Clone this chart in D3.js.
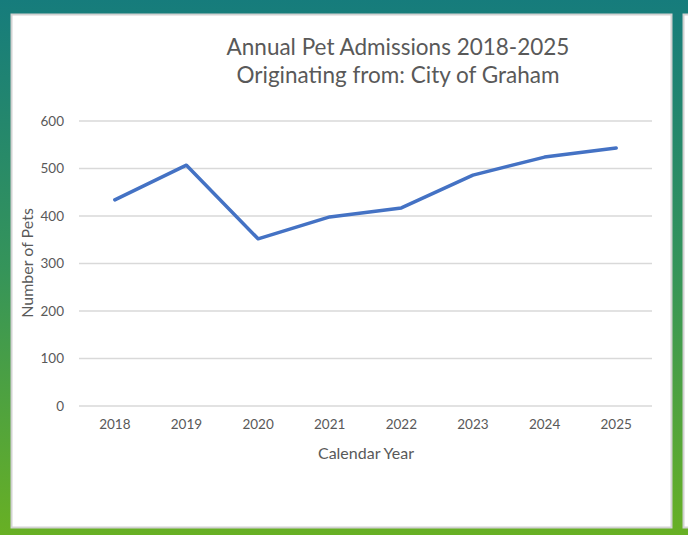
<!DOCTYPE html>
<html>
<head>
<meta charset="utf-8">
<script src="https://cdn.jsdelivr.net/npm/d3@7"></script>
<style>
  body { margin: 0; background: #fff; }
  text { font-family: Lato, "Open Sans", sans-serif; fill: #595959; }
</style>
</head>
<body>
<svg id="drawspace" width="688" height="535"></svg>
<script>
// chart data
const years = ["2018", "2019", "2020", "2021", "2022", "2023", "2024", "2025"];
const admissions = [434, 507, 352, 398, 417, 486, 524, 543];
const yTicks = [0, 100, 200, 300, 400, 500, 600];

let svg = d3.select("#drawspace");
const W = 688, H = 535;

// gradient frame behind the chart panel
let defs = svg.append("defs");
let grad = defs.append("linearGradient").attr("id", "frame")
  .attr("x1", 0).attr("y1", 0).attr("x2", 0).attr("y2", 1);
grad.append("stop").attr("offset", "0%").attr("stop-color", "#167c7c");
grad.append("stop").attr("offset", "50%").attr("stop-color", "#35945a");
grad.append("stop").attr("offset", "100%").attr("stop-color", "#68b024");

svg.append("rect").attr("width", W).attr("height", H).attr("fill", "url(#frame)");

// main white panel
svg.append("rect")
  .attr("x", 11.5).attr("y", 14.5).attr("width", 660).attr("height", 513)
  .attr("fill", "#fff").attr("stroke", "#d2d2d2").attr("stroke-width", 2);

// sliver of the next panel on the right
svg.append("rect")
  .attr("x", 683.5).attr("y", 14.5).attr("width", 10).attr("height", 513)
  .attr("fill", "#fff").attr("stroke", "#d2d2d2").attr("stroke-width", 2);

// scales
let x = d3.scaleBand().domain(years).range([79, 652]);
let y = d3.scaleLinear().domain([0, 600]).range([406, 121]);

// gridlines
svg.append("g").selectAll("line")
  .data(yTicks).enter().append("line")
  .attr("x1", 79).attr("x2", 652)
  .attr("y1", d => y(d)).attr("y2", d => y(d))
  .attr("stroke", "#d9d9d9").attr("stroke-width", 1.5);

// y axis labels
let yAxis = svg.append("g").attr("transform", "translate(64,0)")
  .call(d3.axisLeft(y).tickValues(yTicks).tickSize(0).tickPadding(0));
yAxis.select(".domain").remove();
yAxis.selectAll("text").style("font-size", "13.5px").attr("fill", "#595959");

// x axis labels
let xAxis = svg.append("g").attr("transform", "translate(0,406)")
  .call(d3.axisBottom(x).tickSize(0).tickPadding(13));
xAxis.select(".domain").remove();
xAxis.selectAll("text").style("font-size", "13.5px").attr("fill", "#595959");

// the line
let line = d3.line()
  .x((d, i) => x(years[i]) + x.bandwidth() / 2)
  .y(d => y(d));

svg.append("path")
  .datum(admissions)
  .attr("d", line)
  .attr("fill", "none")
  .attr("stroke", "#4472c4")
  .attr("stroke-width", 3.5)
  .attr("stroke-linejoin", "round")
  .attr("stroke-linecap", "round");

// titles
svg.append("text").attr("x", 398).attr("y", 55)
  .attr("text-anchor", "middle").style("font-size", "22.5px")
  .text("Annual Pet Admissions 2018-2025");
svg.append("text").attr("x", 398).attr("y", 83)
  .attr("text-anchor", "middle").style("font-size", "22.5px")
  .text("Originating from: City of Graham");

svg.append("text").attr("x", 366).attr("y", 459)
  .attr("text-anchor", "middle").style("font-size", "16px")
  .text("Calendar Year");

svg.append("text")
  .attr("transform", "translate(33,263) rotate(-90)")
  .attr("text-anchor", "middle").style("font-size", "16px")
  .text("Number of Pets");
</script>
</body>
</html>
